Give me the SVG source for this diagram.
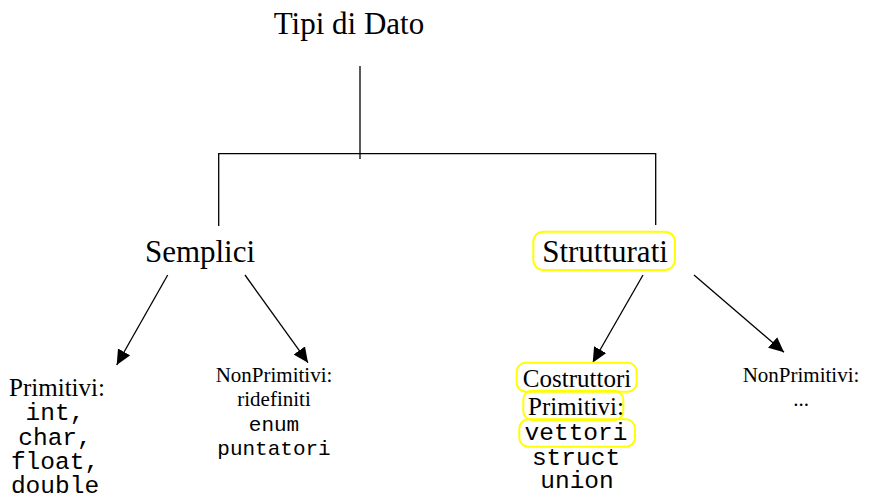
<svg xmlns="http://www.w3.org/2000/svg" width="886" height="499" viewBox="0 0 886 499">
<style>
.serif{font-family:"Liberation Serif","Times New Roman",serif;fill:#000;text-anchor:middle}
.mono{font-family:"Liberation Mono","Courier New",monospace;fill:#000;text-anchor:middle;font-size:24.5px}
.big{font-size:31px}
.med{font-size:25px}
.sm{font-size:21px}
.line{stroke:#000;stroke-width:1.3;fill:none}
.hl{fill:none;stroke:#ffff00;stroke-width:2}
</style>
<defs>
<marker id="arr" markerUnits="userSpaceOnUse" markerWidth="16" markerHeight="14" refX="15" refY="7" orient="auto">
<path d="M0,0 L15,7 L0,14 Z" fill="#000"/>
</marker>
</defs>
<g id="connectors">
<line class="line" x1="360" y1="66" x2="360" y2="159"/>
<polyline class="line" points="218.7,226 218.7,153.7 655.7,153.7 655.7,225"/>
<line class="line" x1="167.7" y1="275" x2="116.7" y2="365" marker-end="url(#arr)"/>
<line class="line" x1="245" y1="275" x2="308" y2="362.7" marker-end="url(#arr)"/>
<line class="line" x1="643" y1="275" x2="592.7" y2="362.7" marker-end="url(#arr)"/>
<line class="line" x1="694" y1="275" x2="784" y2="352.3" marker-end="url(#arr)"/>
</g>
<g id="root"><text class="serif big" x="349" y="34">Tipi di Dato</text></g>
<g id="semplici"><text class="serif big" x="200" y="261.7">Semplici</text></g>
<g id="strutturati">
<rect class="hl" x="533.3" y="231.7" width="141.7" height="38.3" rx="10"/>
<text class="serif big" x="605" y="261.7">Strutturati</text>
</g>
<g id="primitivi">
<text class="serif med" x="57" y="396">Primitivi:</text>
<text class="mono" x="55" y="420">int,</text>
<text class="mono" x="55" y="445">char,</text>
<text class="mono" x="55" y="469">float,</text>
<text class="mono" x="55" y="493">double</text>
</g>
<g id="nonprimitivi-semplici">
<text class="serif sm" x="274" y="382">NonPrimitivi:</text>
<text class="serif sm" x="274" y="406">ridefiniti</text>
<text class="mono sm" x="274" y="431">enum</text>
<text class="mono sm" x="274" y="455">puntatori</text>
</g>
<g id="costruttori">
<rect class="hl" x="516.7" y="362.7" width="120" height="29" rx="9"/>
<text class="serif med" x="577" y="386.7">Costruttori</text>
<rect class="hl" x="523.3" y="390.7" width="100" height="29.3" rx="9"/>
<text class="serif med" x="576" y="415">Primitivi:</text>
<rect class="hl" x="519.3" y="419.3" width="115.7" height="27.4" rx="9"/>
<text class="mono" x="576" y="440">vettori</text>
<text class="mono" x="576" y="465">struct</text>
<text class="mono" x="577" y="488">union</text>
</g>
<g id="nonprimitivi-strutturati">
<text class="serif sm" x="801" y="382">NonPrimitivi:</text>
<text class="serif sm" x="801" y="406">...</text>
</g>
</svg>
